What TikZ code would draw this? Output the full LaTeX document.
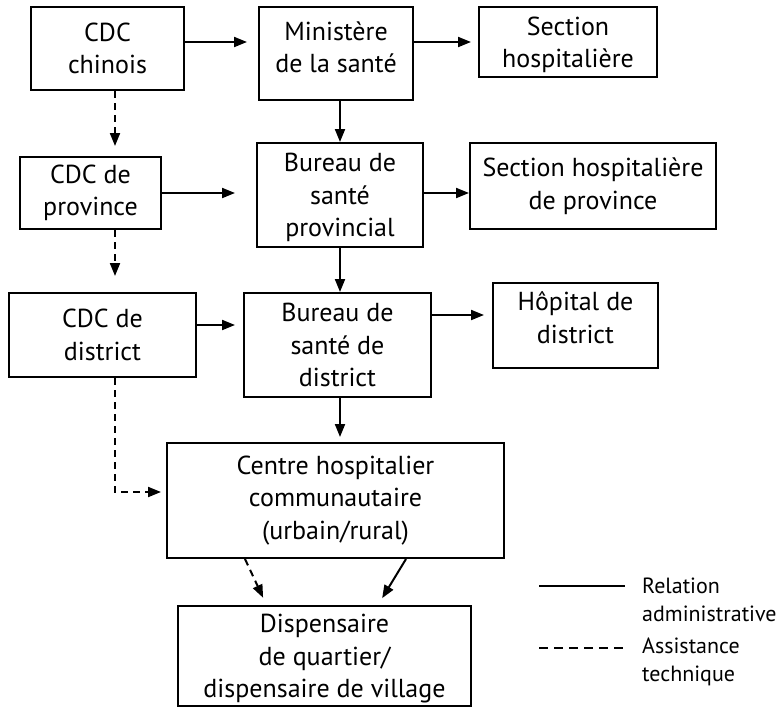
\documentclass[tikz,border=0pt]{standalone}
\usepackage{fontspec}
\setmainfont{PT Sans}
\usetikzlibrary{arrows.meta}
\begin{document}
\begin{tikzpicture}[x=1pt,y=-1pt,
    box/.style={draw, line width=2pt, align=center, inner sep=0pt,
                font=\fontsize{26}{32.5}\selectfont},
    legtxt/.style={align=left, inner sep=0pt, font=\fontsize{22}{27.5}\selectfont},
    arr/.style={line width=2pt, -{Triangle[length=13pt,width=10pt]}},
    tecarr/.style={arr, dash pattern=on 7pt off 5pt}]
\useasboundingbox (0,0) rectangle (782,707);
% top level
\node[box, minimum width=153pt, minimum height=83pt]  (cdcch)   at (107.5,48.5) {CDC\\chinois};
\node[box, minimum width=154pt, minimum height=93pt, text depth=13pt] (minist) at (336,53.5) {Ministère\\de la santé};
\node[box, minimum width=178pt, minimum height=70pt, text depth=0pt]  (secth)  at (568,42)   {Section\\hospitalière};
% province
\node[box, minimum width=141pt, minimum height=72pt]  (cdcprov) at (90.5,193)   {CDC de\\province};
\node[box, minimum width=166pt, minimum height=104pt, text depth=0pt] (bprov) at (340,195) {Bureau de\\santé\\provincial};
\node[box, minimum width=246pt, minimum height=86pt]  (secprov) at (593,186)    {Section hospitalière\\de province};
% district
\node[box, minimum width=187pt, minimum height=84pt]  (cdcdist) at (102.5,335)  {CDC de\\district};
\node[box, minimum width=187pt, minimum height=104pt] (bdist)   at (337.5,345)  {Bureau de\\santé de\\district};
\node[box, minimum width=165pt, minimum height=85pt, text depth=16pt] (hopdist) at (575.5,325.5) {Hôpital de\\district};
% base
\node[box, minimum width=337pt, minimum height=115pt] (centre)  at (335.5,500.5) {Centre hospitalier\\communautaire\\(urbain/rural)};
\node[box, minimum width=293pt, minimum height=100pt, text depth=0pt] (disp) at (324.5,656) {Dispensaire\\de quartier/\\dispensaire de village};

\coordinate (tech) at (115,0);
\path (hopdist.west) ++(0,-10.5) coordinate (hopin);

\draw[arr, shorten >=11pt] ([yshift=6.5pt]cdcch.east) -- ([yshift=6.5pt]cdcch.east -| minist.west);
\draw[arr, shorten >=7pt] (minist.east |- secth.west) -- (secth.west);
\draw[arr] (minist.south -| bprov.north) -- (bprov.north);
\draw[arr, shorten >=21pt] (cdcprov.east) -- (cdcprov.east -| bprov.west);
\draw[arr] ([yshift=2pt]bprov.east) -- ([yshift=2pt]bprov.east -| secprov.west);
\draw[arr] (bprov.south) -- (bprov.south |- bdist.north);
\draw[arr, shorten >=8pt] ([yshift=10pt]cdcdist.east) -- ([yshift=10pt]cdcdist.east -| bdist.west);
\draw[arr, shorten >=8pt] (bdist.east |- hopin) -- (hopin);
\draw[arr, shorten >=5pt] (bdist.south -| bprov.south) -- (bprov.south |- centre.north);

\draw[tecarr, shorten >=10pt] (cdcch.south -| tech) -- (cdcprov.north -| tech);
\draw[tecarr, shorten >=16pt] (cdcprov.south -| tech) -- (cdcdist.north -| tech);
\draw[tecarr, shorten >=5pt] (cdcdist.south -| tech) |- ([yshift=8.5pt]centre.west);

\draw[tecarr, shorten >=8pt] ([xshift=-90.5pt]centre.south) -- ([xshift=-58pt]disp.north);
\draw[arr, shorten >=8pt] ([xshift=70.5pt]centre.south) -- ([xshift=53.5pt]disp.north);

% legend
\coordinate (relA) at (539,586);
\coordinate (relB) at (625,586);
\coordinate (astA) at (539,648);
\coordinate (astB) at (625,648);
\draw[line width=2pt] (relA) -- (relB);
\draw[line width=2pt, dash pattern=on 9pt off 6pt] (astA) -- (astB);
\node[legtxt, anchor=west] (reltxt) at (642,600) {Relation\\administrative};
\node[legtxt, anchor=west] (asttxt) at (642,662) {Assistance\\technique};
\end{tikzpicture}
\end{document}
